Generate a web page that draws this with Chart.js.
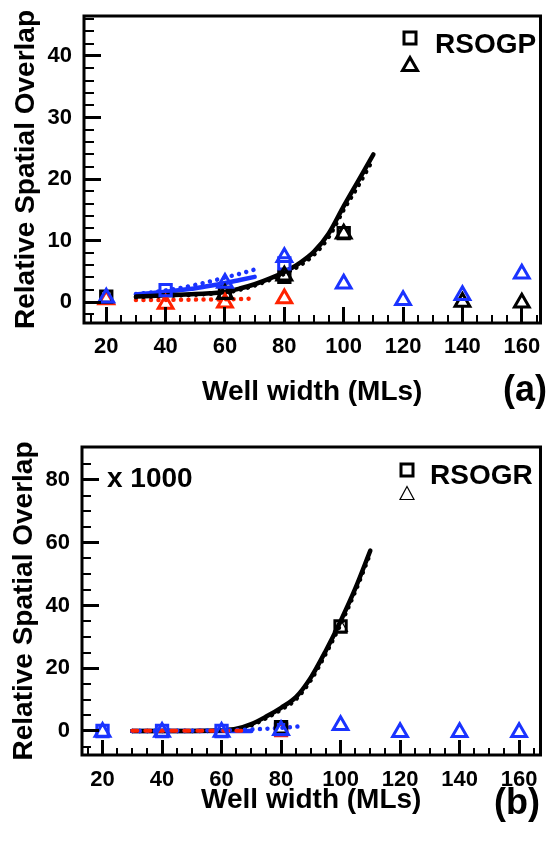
<!DOCTYPE html>
<html>
<head>
<meta charset="utf-8">
<script src="https://cdn.jsdelivr.net/npm/chart.js@4.4.1/dist/chart.umd.min.js"></script>
<style>
  html, body { margin: 0; padding: 0; background: #fff; }
  #wrap { position: relative; width: 552px; height: 843px; }
  .panel { position: absolute; left: 0; width: 552px; }
  #pa { top: 0; height: 420px; }
  #pb { top: 420px; height: 423px; }
  canvas { display: block; }
  .overlay { position: absolute; left: 0; top: 0; pointer-events: none; }
</style>
</head>
<body>
<div id="wrap">
  <div class="panel" id="pa">
    <canvas id="chartA" width="552" height="420"></canvas>
    <canvas id="axesA" class="overlay" width="552" height="420"></canvas>
  </div>
  <div class="panel" id="pb">
    <canvas id="chartB" width="552" height="423"></canvas>
    <canvas id="axesB" class="overlay" width="552" height="423"></canvas>
  </div>
</div>
<script>
// ---- data -------------------------------------------------------------
// Well widths (MLs) carrying the symbols
const wellWidths = [20, 40, 60, 80, 100, 120, 140, 160];
const xTickLabels = [20, 40, 60, 80, 100, 120, 140, 160];
const yTickLabelsA = [0, 10, 20, 30, 40];
const yTickLabelsB = [0, 20, 40, 60, 80];

// Model curves, sampled along the well width (MLs)
const curveWidths = [30, 35, 40, 45, 50, 55, 60, 65, 70, 75, 80, 85, 90, 95, 100, 105, 110];
const blueWidthsA = [30, 35, 40, 45, 50, 55, 60, 65, 70];
const redWidthsA = [30, 35, 40, 45, 50, 55, 60, 65, 68];
const blueWidthsB = [30, 35, 40, 45, 50, 55, 60, 65, 70];
const blueDotWidthsB = [30, 40, 50, 60, 70, 80, 88];
const redWidthsB = [30, 35, 40, 45, 50, 55, 60, 65, 69];

// (a) RSOGP
const aBlackSolid  = [0.9, 1.0, 1.1, 1.2, 1.3, 1.45, 1.65, 2.2, 2.9, 3.8, 4.9, 6.3, 8.2, 11.2, 15.6, 19.8, 24.0];
const aBlackDotted = [0.8, 0.9, 1.0, 1.1, 1.2, 1.35, 1.55, 2.0, 2.7, 3.6, 4.6, 5.9, 7.7, 10.6, 15.0, 19.0, 23.3];
const aBlueSolid   = [1.25, 1.45, 1.7, 1.95, 2.25, 2.65, 3.1, 3.6, 4.1];
const aBlueDotted  = [1.3, 1.55, 1.9, 2.3, 2.8, 3.35, 4.0, 4.6, 5.3];
const aRedDotted   = [0.35, 0.35, 0.35, 0.38, 0.4, 0.42, 0.45, 0.5, 0.55];

const aBlackSquares   = [0.9, null, 1.5, 4.1, 11.2, null, null, null];
const aBlueSquares    = [null, 1.95, null, 6.3, null, null, null, null];
const aBlackTriangles = [null, null, 1.3, 4.3, 11.1, null, 0.0, -0.1];
const aBlueTriangles  = [0.7, null, 3.1, 7.3, 3.0, 0.3, 1.1, 4.6];
const aRedTriangles   = [0.4, -0.3, -0.1, 0.6, null, null, null, null];

// (b) RSOGR, x 1000
const bBlackSolid  = [0, 0, 0, 0, 0, 0.05, 0.2, 0.7, 2.2, 4.6, 7.4, 10.8, 17.0, 25.5, 35.0, 45.5, 57.5];
const bBlackDotted = [0, 0, 0, 0, 0, 0.03, 0.1, 0.5, 1.8, 4.1, 6.8, 10.1, 16.2, 24.6, 34.0, 44.6, 56.6];
const bBlueSolid   = [0, 0, 0, 0, 0, 0, 0, 0, 0];
const bBlueDotted  = [0, 0.05, 0.1, 0.2, 0.5, 1.0, 1.6];
const bRedDotted   = [0.1, 0.1, 0.1, 0.1, 0.1, 0.1, 0.1, 0.1, 0.1];

const bBlackSquares   = [null, null, null, 1.2, 33.3, null, null, null];
const bBlueSquares    = [0, 0, 0, 0.6, null, null, null, null];
const bRedSquares     = [null, null, null, 0.3, null, null, null, null];
const bBlackTriangles = [null, null, null, null, 33.0, null, null, null];
const bBlueTriangles  = [-0.3, -0.3, -0.3, 0.2, 1.8, -0.4, -0.4, -0.4];

// ---- styling ----------------------------------------------------------
const BLACK = '#000000';
const BLUE = '#1a33ff';
const RED = '#ff2200';
const FONT = "'Liberation Sans', Arial, Helvetica, sans-serif";

Chart.defaults.font.family = FONT;
Chart.defaults.font.weight = 'bold';
Chart.defaults.color = '#000';

function pairs(xs, ys) {
  const out = [];
  xs.forEach((x, i) => { if (ys[i] !== null && ys[i] !== undefined) out.push({ x: x, y: ys[i] }); });
  return out;
}

function curve(xs, ys, color, kind) {
  const ds = {
    data: pairs(xs, ys),
    borderColor: color,
    borderWidth: 4.5,
    borderCapStyle: 'round',
    borderJoinStyle: 'round',
    pointRadius: 0,
    pointHoverRadius: 0,
    cubicInterpolationMode: 'monotone',
    fill: false
  };
  if (kind === 'dot') { ds.borderDash = [0.01, 7.5]; ds.borderWidth = 4.5; }
  if (kind === 'dash') { ds.borderDash = [5, 8]; ds.borderWidth = 4; }
  return ds;
}

function symbols(ys, color, shape, r, bw) {
  return {
    data: pairs(wellWidths, ys),
    showLine: false,
    pointStyle: shape,
    pointRadius: r,
    pointHoverRadius: r,
    pointBorderColor: color,
    pointBackgroundColor: 'rgba(0,0,0,0)',
    pointBorderWidth: bw,
    pointHoverBorderWidth: bw
  };
}

// tick values from start to end in fixed steps
function stepValues(start, end, step) {
  const out = [];
  const n = Math.round((end - start) / step);
  for (let i = 0; i <= n; i++) out.push(Math.round((start + i * step) * 1000) / 1000);
  return out;
}

// Frame and inward tick marks go on a transparent canvas laid over the chart;
// legend and captions are written on the chart canvas itself.
function decorations(cfg) {
  const xVals = stepValues(cfg.xMinor[0], cfg.xMinor[1], cfg.xMinor[2]);
  const yVals = stepValues(cfg.yMinor[0], cfg.yMinor[1], cfg.yMinor[2]);
  return {
    id: 'panelDecor',
    afterDraw(chart) {
      const area = chart.chartArea;
      const sx = chart.scales.x;
      const sy = chart.scales.y;

      const layer = document.getElementById(cfg.overlay);
      const g = layer.getContext('2d');
      g.clearRect(0, 0, layer.width, layer.height);
      g.fillStyle = '#000';
      xVals.forEach(v => {
        const px = sx.getPixelForValue(v);
        const big = xTickLabels.indexOf(v) >= 0;
        const tw = big ? 3 : 2;
        const tl = big ? cfg.xLen[0] : cfg.xLen[1];
        g.fillRect(Math.round(px - tw / 2), Math.round(area.bottom - tl), tw, tl);
      });
      yVals.forEach(v => {
        const py = sy.getPixelForValue(v);
        const big = cfg.yLabels.indexOf(v) >= 0;
        const tw = big ? 3 : 2;
        const tl = big ? cfg.yLen[0] : cfg.yLen[1];
        g.fillRect(Math.round(area.left), Math.round(py - tw / 2), tl, tw);
      });
      g.strokeStyle = '#000';
      g.lineWidth = 3;
      g.strokeRect(area.left, area.top, area.right - area.left, area.bottom - area.top);

      const ctx = chart.ctx;
      ctx.save();
      ctx.setLineDash([]);
      ctx.strokeStyle = '#000';
      // legend
      const L = cfg.legend;
      ctx.lineJoin = 'miter';
      ctx.lineWidth = 3;
      ctx.strokeRect(L.x - 6, L.sqY - 6, 12, 12);
      ctx.lineWidth = L.triLW;
      ctx.beginPath();
      ctx.moveTo(L.x, L.triY - L.triH / 2);
      ctx.lineTo(L.x + L.triW / 2, L.triY + L.triH / 2);
      ctx.lineTo(L.x - L.triW / 2, L.triY + L.triH / 2);
      ctx.closePath();
      ctx.stroke();
      ctx.fillStyle = '#000';
      ctx.textBaseline = 'middle';
      ctx.textAlign = 'left';
      ctx.font = 'bold 28px ' + FONT;
      ctx.fillText(L.text, L.textX, L.textY);
      if (cfg.note) {
        ctx.fillText(cfg.note.text, cfg.note.x, cfg.note.y);
      }
      // panel tag
      ctx.textAlign = 'right';
      ctx.font = 'bold 36px ' + FONT;
      ctx.fillText(cfg.tag.text, cfg.tag.x, cfg.tag.y);
      ctx.restore();
    }
  };
}

function xScale(min, max, height, labelPad, titlePad) {
  return {
    type: 'linear',
    position: 'bottom',
    min: min, max: max,
    afterBuildTicks: s => { s.ticks = xTickLabels.map(v => ({ value: v })); },
    afterFit: s => { s.height = height; s.paddingLeft = 0; s.paddingRight = 0; },
    grid: { display: false, drawTicks: false },
    border: { display: false },
    ticks: { padding: labelPad, color: '#000', font: { size: 22, weight: 'bold' }, maxRotation: 0, autoSkip: false },
    title: { display: true, text: 'Well width (MLs)', color: '#000', font: { size: 28, weight: 'bold' }, padding: { top: 0, bottom: titlePad } }
  };
}

function yScale(min, max, width, labels, titlePad) {
  return {
    type: 'linear',
    position: 'left',
    min: min, max: max,
    afterBuildTicks: s => { s.ticks = labels.map(v => ({ value: v })); },
    afterFit: s => { s.width = width; s.paddingTop = 0; s.paddingBottom = 0; },
    grid: { display: false, drawTicks: false },
    border: { display: false },
    ticks: { padding: 12, color: '#000', font: { size: 22, weight: 'bold' }, autoSkip: false },
    title: { display: true, text: 'Relative Spatial Overlap', color: '#000', font: { size: 28, weight: 'bold' }, padding: { top: titlePad, bottom: 0 } }
  };
}

function commonOptions() {
  return {
    responsive: false,
    animation: false,
    events: [],
    plugins: { legend: { display: false }, tooltip: { enabled: false } }
  };
}

// ---- panel (a) --------------------------------------------------------
new Chart(document.getElementById('chartA'), {
  type: 'line',
  data: {
    datasets: [
      symbols(aBlueTriangles, BLUE, 'triangle', 8.5, 3),
      symbols(aBlackTriangles, BLACK, 'triangle', 8.5, 3),
      symbols(aBlueSquares, BLUE, 'rect', 8, 3),
      symbols(aBlackSquares, BLACK, 'rect', 8, 3),
      symbols(aRedTriangles, RED, 'triangle', 8.5, 3),
      curve(curveWidths, aBlackSolid, BLACK, 'solid'),
      curve(blueWidthsA, aBlueSolid, BLUE, 'solid'),
      curve(curveWidths, aBlackDotted, BLACK, 'dot'),
      curve(blueWidthsA, aBlueDotted, BLUE, 'dot'),
      curve(redWidthsA, aRedDotted, RED, 'dot')
    ]
  },
  options: Object.assign(commonOptions(), {
    layout: { padding: { left: 0, top: 16, right: 2, bottom: 0 } },
    scales: {
      x: xScale(12.5, 166.3, 97, 11, 11),
      y: yScale(-3.4, 46.5, 84, yTickLabelsA, 9.6)
    }
  }),
  plugins: [decorations({
    overlay: 'axesA',
    xMinor: [15, 165, 5], xLen: [16, 8],
    yMinor: [-2, 46, 2], yLen: [17, 10], yLabels: yTickLabelsA,
    legend: { x: 410, sqY: 38, triY: 64, triW: 15, triH: 13, triLW: 3, text: 'RSOGP', textX: 435, textY: 45.5 },
    tag: { text: '(a)', x: 547, y: 390.7 }
  })]
});

// ---- panel (b) --------------------------------------------------------
new Chart(document.getElementById('chartB'), {
  type: 'line',
  data: {
    datasets: [
      symbols(bBlueTriangles, BLUE, 'triangle', 8.5, 3),
      symbols(bBlackTriangles, BLACK, 'triangle', 8, 1.2),
      symbols(bBlackSquares, BLACK, 'rect', 8, 3),
      symbols(bBlueSquares, BLUE, 'rect', 8, 3),
      symbols(bRedSquares, RED, 'rect', 8, 3),
      curve(redWidthsB, bRedDotted, RED, 'dash'),
      curve(blueDotWidthsB, bBlueDotted, BLUE, 'dot'),
      curve(curveWidths, bBlackSolid, BLACK, 'solid'),
      curve(curveWidths, bBlackDotted, BLACK, 'dot'),
      curve(blueWidthsB, bBlueSolid, BLUE, 'solid')
    ]
  },
  options: Object.assign(commonOptions(), {
    layout: { padding: { left: 0, top: 27, right: 2, bottom: 0 } },
    scales: {
      x: xScale(13.1, 167.2, 88, 12, 25.7),
      y: yScale(-7.65, 90.5, 82, yTickLabelsB, 7.6)
    }
  }),
  plugins: [decorations({
    overlay: 'axesB',
    xMinor: [15, 165, 5], xLen: [15, 7],
    yMinor: [-5, 85, 5], yLen: [17, 9], yLabels: yTickLabelsB,
    legend: { x: 407, sqY: 50, triY: 73, triW: 14, triH: 13, triLW: 1.2, text: 'RSOGR', textX: 430, textY: 56.4 },
    note: { text: 'x 1000', x: 107, y: 59.4 },
    tag: { text: '(b)', x: 540, y: 384 }
  })]
});
</script>
</body>
</html>
